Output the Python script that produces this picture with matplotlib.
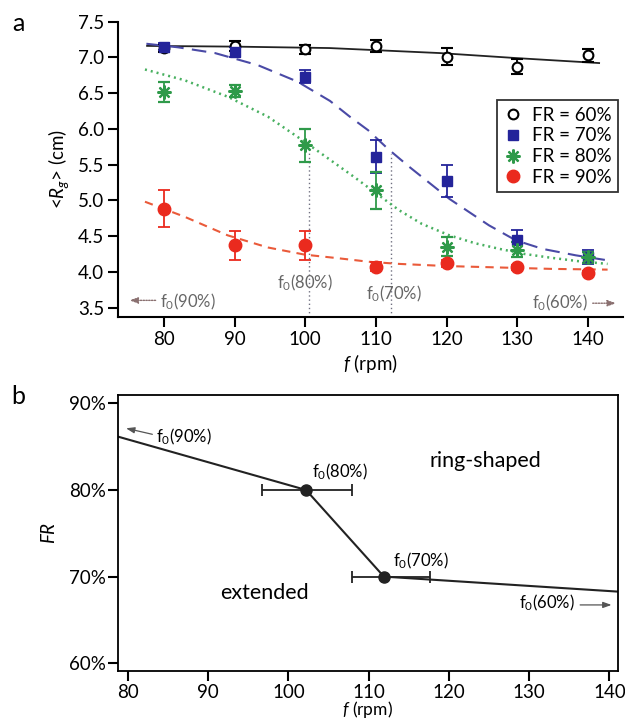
import numpy as np
import matplotlib
matplotlib.use('Agg')
import matplotlib.pyplot as plt
from matplotlib.lines import Line2D
from matplotlib.ticker import FuncFormatter

plt.rcParams['font.family'] = ['Lato', 'DejaVu Sans']
plt.rcParams['mathtext.fontset'] = 'custom'
plt.rcParams['mathtext.rm'] = 'Lato'
plt.rcParams['mathtext.it'] = 'Lato:italic'
plt.rcParams['mathtext.default'] = 'regular'

# panel a: measured <Rg> vs rotation speed
rpm = [80, 90, 100, 110, 120, 130, 140]
rg60 = [7.13, 7.16, 7.11, 7.16, 7.01, 6.87, 7.03]
err60 = [0.06, 0.07, 0.06, 0.08, 0.12, 0.10, 0.09]
rg70 = [7.15, 7.07, 6.73, 5.61, 5.27, 4.44, 4.21]
err70 = [0.05, 0.07, 0.09, 0.23, 0.22, 0.15, 0.10]
rg80 = [6.52, 6.53, 5.77, 5.14, 4.35, 4.31, 4.20]
err80 = [0.14, 0.08, 0.23, 0.26, 0.13, 0.10, 0.08]
rg90 = [4.88, 4.37, 4.37, 4.07, 4.12, 4.06, 3.98]
err90 = [0.26, 0.20, 0.20, 0.06, 0.05, 0.03, 0.03]

# fitted curves
fit60_x = [77.6, 90.0, 103.4, 119.0, 129.8, 141.6]
fit60_y = [7.16, 7.15, 7.13, 7.06, 6.99, 6.92]
fit70_x = [77.5, 82.0, 87.2, 93.3, 98.9, 103.5, 106.3, 108.9, 111.7, 114.7, 120.4, 126.0, 129.8, 133.6, 138.3, 142.8]
fit70_y = [7.19, 7.14, 7.06, 6.89, 6.66, 6.39, 6.17, 5.98, 5.72, 5.47, 5.02, 4.65, 4.44, 4.32, 4.23, 4.16]
fit80_x = [77.3, 82.9, 89.0, 94.7, 99.9, 103.6, 107.0, 110.0, 113.3, 116.5, 120.4, 124.0, 127.5, 131.0, 134.5, 138.5, 142.8]
fit80_y = [6.83, 6.68, 6.45, 6.17, 5.82, 5.56, 5.32, 5.10, 4.86, 4.67, 4.51, 4.40, 4.32, 4.25, 4.20, 4.15, 4.11]
fit90_x = [77.3, 82.9, 89.0, 94.7, 99.9, 104.6, 109.0, 113.3, 120.0, 127.5, 135.0, 142.8]
fit90_y = [4.98, 4.77, 4.51, 4.34, 4.24, 4.19, 4.14, 4.11, 4.08, 4.06, 4.04, 4.03]

# transition speeds marked in panel a
f0_80_a = 100.5
f0_80_top = 5.77
f0_70_a = 112.1
f0_70_top = 5.65

# panel b: phase diagram
f0 = [102.2, 111.9]
fr = [80, 70]
f0_err_lo = [5.5, 4.0]
f0_err_hi = [5.7, 5.7]
bound_f = [78.8, 102.2, 111.9, 141.0]
bound_fr = [86.15, 80.0, 70.0, 68.27]

C60 = 'black'
C70 = '#24249a'
C80 = '#2f9a4a'
C90 = '#ea2a1e'
GRAY = '#666666'
FS = 13.5

fig = plt.figure(figsize=(6.25, 7.2), dpi=100)
ax = fig.add_axes([0.189, 0.560, 0.808, 0.410])
bx = fig.add_axes([0.189, 0.068, 0.799, 0.3834])

star = (8, 2, 0)
ax.plot(fit60_x, fit60_y, color='#222222', lw=1.3, zorder=2)
ax.plot(fit70_x, fit70_y, color='#4a4aa6', lw=1.5, ls=(0, (7, 4)), zorder=2)
ax.plot(fit80_x, fit80_y, color='#48b060', lw=1.8, ls=(0, (0.8, 1.6)), zorder=2)
ax.plot(fit90_x, fit90_y, color='#ea5a3a', lw=1.5, ls=(0, (4, 3)), zorder=2)

ekw = dict(capsize=4.5, elinewidth=1.3, capthick=1.3, ls='none', zorder=3)
ax.errorbar(rpm, rg60, yerr=err60, marker='o', ms=7, mfc='white', mec=C60, mew=1.5, color=C60, **ekw)
ax.errorbar(rpm, rg70, yerr=err70, marker='s', ms=7, color=C70, **ekw)
ax.errorbar(rpm, rg80, yerr=err80, marker=star, ms=10, mew=1.6, color=C80, **ekw)
ax.errorbar(rpm, rg90, yerr=err90, marker='o', ms=9, color=C90, **ekw)

ax.plot([f0_80_a, f0_80_a], [3.37, f0_80_top], color='#707080', lw=1, ls=(0, (1, 2)), zorder=1)
ax.plot([f0_70_a, f0_70_a], [3.37, f0_70_top], color='#707080', lw=1, ls=(0, (1, 2)), zorder=1)

ax.set_xlim(73.5, 145)
ax.set_ylim(3.37, 7.5)
ax.set_xticks(rpm)
ax.set_yticks(np.arange(3.5, 7.51, 0.5))
ax.yaxis.set_major_formatter(FuncFormatter(lambda v, p: '%.1f' % v))
ax.spines['top'].set_visible(False)
ax.spines['right'].set_visible(False)
ax.spines['left'].set_bounds(3.37, 7.5)
for s in ax.spines.values():
    s.set_linewidth(1.5)
ax.tick_params(direction='out', length=7, width=1.5, labelsize=FS, pad=3)
ax.set_xlabel(r'$\mathit{f}$ (rpm)', fontsize=FS, labelpad=3)
ax.set_ylabel(r'<$\mathit{R}_{\mathit{g}}$> (cm)', fontsize=FS, labelpad=5)

ax.text(100.0, 3.85, 'f$_0$(80%)', fontsize=12, color=GRAY, ha='center', va='center')
ax.text(112.6, 3.69, 'f$_0$(70%)', fontsize=12, color=GRAY, ha='center', va='center')
ax.text(79.4, 3.58, 'f$_0$(90%)', fontsize=12, color=GRAY, ha='left', va='center')
ax.text(140.0, 3.56, 'f$_0$(60%)', fontsize=12, color=GRAY, ha='right', va='center')
akw = dict(arrowstyle='-|>,head_length=0.5,head_width=0.18', color='#8a7070', lw=1, ls=(0, (1, 1)))
ax.annotate('', xy=(74.7, 3.60), xytext=(79.2, 3.60), arrowprops=akw)
ax.annotate('', xy=(144.4, 3.56), xytext=(140.3, 3.56), arrowprops=akw, annotation_clip=False)

handles = [
    Line2D([], [], marker='o', ms=7, mfc='white', mec=C60, mew=1.5, ls='none'),
    Line2D([], [], marker='s', ms=7, color=C70, ls='none'),
    Line2D([], [], marker=star, ms=10, mew=1.6, color=C80, ls='none'),
    Line2D([], [], marker='o', ms=9, color=C90, ls='none'),
]
labels = ['FR = 60%', 'FR = 70%', 'FR = 80%', 'FR = 90%']
leg = fig.legend(handles, labels, loc='upper right', bbox_to_anchor=(0.989, 0.861),
                 fontsize=FS, frameon=True, fancybox=False, edgecolor='black',
                 handlelength=1.0, handletextpad=0.5, borderpad=0.35, labelspacing=0.2,
                 borderaxespad=0)
leg.get_frame().set_linewidth(1.3)

# panel b
bx.plot(bound_f, bound_fr, color='#222222', lw=1.5, zorder=2)
bx.errorbar(f0, fr, xerr=[f0_err_lo, f0_err_hi], marker='o', ms=8, color='#222222',
            ls='none', capsize=4.5, elinewidth=1.3, capthick=1.3, zorder=3)
bx.set_xlim(78.8, 141)
bx.set_ylim(59.1, 90.96)
bx.set_xticks([80, 90, 100, 110, 120, 130, 140])
bx.set_yticks([60, 70, 80, 90])
bx.yaxis.set_major_formatter(FuncFormatter(lambda v, p: '%d%%' % v))
for s in bx.spines.values():
    s.set_linewidth(1.3)
bx.tick_params(direction='out', length=7, width=1.5, labelsize=FS, pad=2)
bx.set_xlabel(r'$\mathit{f}$ (rpm)', fontsize=12.5, labelpad=-1)
bx.set_ylabel(r'$\mathit{FR}$', fontsize=FS, labelpad=8)

bx.text(102.9, 82.1, 'f$_0$(80%)', fontsize=12, ha='left', va='center')
bx.text(113.0, 71.8, 'f$_0$(70%)', fontsize=12, ha='left', va='center')
bx.text(83.5, 86.1, 'f$_0$(90%)', fontsize=12, ha='left', va='center')
bx.text(135.7, 67.0, 'f$_0$(60%)', fontsize=12, ha='right', va='center')
bx.text(124.5, 83.3, 'ring-shaped', fontsize=15.5, ha='center', va='center')
bx.text(97.0, 68.1, 'extended', fontsize=15.5, ha='center', va='center')
bkw = dict(arrowstyle='-|>,head_length=0.5,head_width=0.18', color='#555555', lw=0.9)
bx.annotate('', xy=(79.45, 87.19), xytext=(83.4, 86.35), arrowprops=bkw)
bx.annotate('', xy=(140.6, 66.73), xytext=(136.0, 66.73), arrowprops=bkw)

fig.text(0.029, 0.967, 'a', fontsize=18, ha='center', va='center')
fig.text(0.029, 0.449, 'b', fontsize=18, ha='center', va='center')

fig.savefig('out.png', dpi=100)
